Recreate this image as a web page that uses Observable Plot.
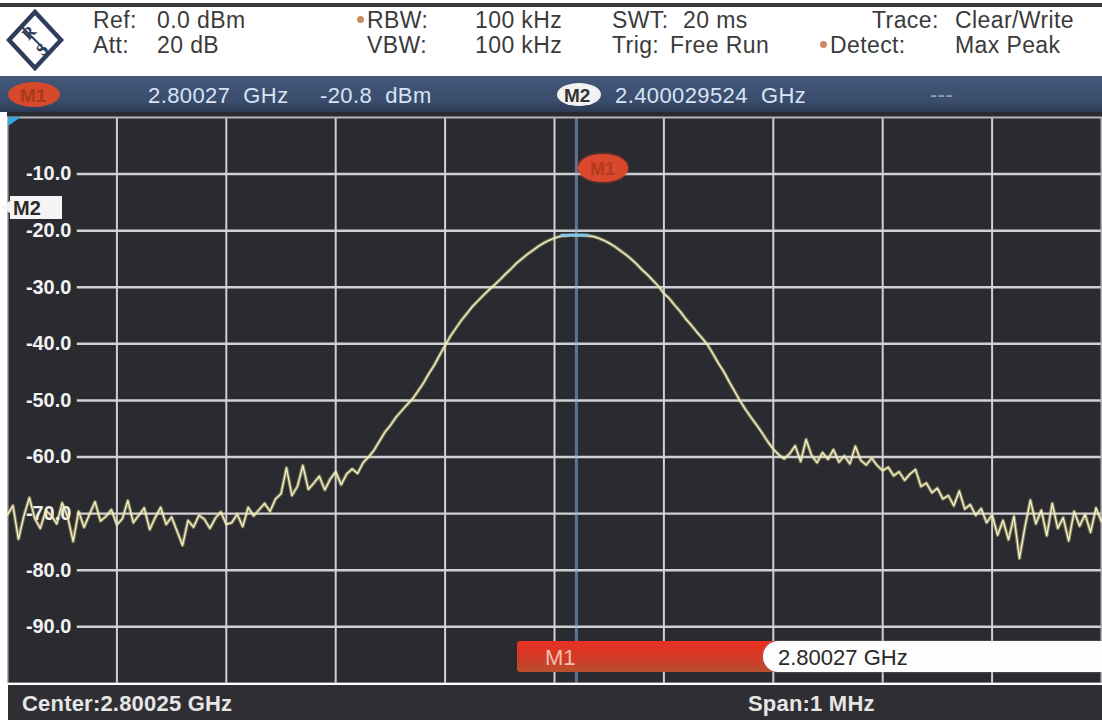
<!DOCTYPE html>
<html><head><meta charset="utf-8">
<script src="https://cdn.jsdelivr.net/npm/d3@7"></script>
<script src="https://cdn.jsdelivr.net/npm/@observablehq/plot@0.6"></script>
<style>
html,body{margin:0;padding:0;background:#fff;overflow:hidden;}
#root{position:relative;width:1102px;height:728px;overflow:hidden;background:#fff;font-family:"Liberation Sans",Arial,sans-serif;}
.h{position:absolute;font-size:23px;color:#3b3b3b;line-height:1;white-space:nowrap;letter-spacing:0.4px;}
.b{position:absolute;font-size:22px;color:#d6e4f6;line-height:1;white-space:nowrap;letter-spacing:0.4px;}
.dot{position:absolute;width:7px;height:7px;border-radius:50%;background:#c98a64;}
.f{position:absolute;font-size:22px;color:#e6e6e6;line-height:1;white-space:nowrap;font-weight:bold;letter-spacing:0.2px;}
</style></head>
<body>
<div id="root">
  <div style="position:absolute;left:0;top:3px;width:1102px;height:4px;background:#3a3a3a"></div>
  <svg style="position:absolute;left:6px;top:9px" width="58" height="62" viewBox="0 0 58 62">
    <polygon points="29,3 55,31 29,59 3,31" fill="none" stroke="#2e3d5c" stroke-width="4.5"/>
    <line x1="16" y1="18" x2="42" y2="44" stroke="#2e3d5c" stroke-width="2"/>
    <text x="17" y="31" font-size="17" font-weight="bold" fill="#2e3d5c" font-family="Liberation Serif,serif" transform="rotate(-45 21 25)">R</text>
    <text x="31" y="46" font-size="17" font-weight="bold" fill="#2e3d5c" font-family="Liberation Serif,serif" transform="rotate(-45 36 40)">S</text>
  </svg>
  <div class="h" style="left:93px;top:9px">Ref:</div>
  <div class="h" style="left:157px;top:9px">0.0 dBm</div>
  <div class="h" style="left:93px;top:34px">Att:</div>
  <div class="h" style="left:157px;top:34px">20 dB</div>
  <div class="dot" style="left:357px;top:16px"></div>
  <div class="h" style="left:367px;top:9px">RBW:</div>
  <div class="h" style="left:475px;top:9px">100 kHz</div>
  <div class="h" style="left:367px;top:34px">VBW:</div>
  <div class="h" style="left:475px;top:34px">100 kHz</div>
  <div class="h" style="left:612px;top:9px">SWT:</div>
  <div class="h" style="left:683px;top:9px">20 ms</div>
  <div class="h" style="left:612px;top:34px">Trig:</div>
  <div class="h" style="left:670px;top:34px">Free Run</div>
  <div class="h" style="left:872px;top:9px">Trace:</div>
  <div class="h" style="left:955px;top:9px">Clear/Write</div>
  <div class="dot" style="left:820px;top:41px"></div>
  <div class="h" style="left:830px;top:34px">Detect:</div>
  <div class="h" style="left:955px;top:34px">Max Peak</div>

  <div style="position:absolute;left:0;top:76px;width:1102px;height:36px;background:linear-gradient(#43577a,#3a4d6c 70%,#2c3a52)"></div>
  <div style="position:absolute;left:8px;top:82px;width:52px;height:25px;border-radius:50%;background:#d6492b"></div>
  <div style="position:absolute;left:20px;top:85px;font-size:19px;color:#a83a24;font-weight:bold">M1</div>
  <div class="b" style="left:148px;top:85px">2.80027&nbsp; GHz</div>
  <div class="b" style="left:320px;top:85px">-20.8&nbsp; dBm</div>
  <div style="position:absolute;left:557px;top:83px;width:44px;height:23px;border-radius:50%;background:#f2f2f2"></div>
  <div style="position:absolute;left:564px;top:85px;font-size:19px;color:#333;font-weight:bold">M2</div>
  <div class="b" style="left:615px;top:85px">2.400029524&nbsp; GHz</div>
  <div class="b" style="left:930px;top:84px;color:#8ea2c0">---</div>

  <div id="plot" style="position:absolute;left:7px;top:112px"></div>

  <div style="position:absolute;left:8px;top:685px;width:1094px;height:35px;background:#2f2f33"></div>
  <div class="f" style="left:22px;top:693px">Center:2.80025 GHz</div>
  <div class="f" style="left:748px;top:693px">Span:1 MHz</div>
</div>
<script>
// ---- data ----
const sweepStartKHz = -500;   // offset from centre 2.80025 GHz
const sweepStepKHz = 5;
const traceLevels = [
  -70.2, -68.6, -74.5, -70.4, -67.2, -70.9, -72.6, -69.5, -70.3, -71.8,
  -68.1, -70.6, -74.9, -69.6, -72.4, -70.1, -67.9, -71.3, -70.5, -69.3,
  -72.0, -70.9, -67.7, -71.6, -70.3, -69.0, -72.8, -70.7, -68.9, -71.9,
  -70.6, -73.1, -75.6, -71.2, -72.4, -70.3, -71.0, -72.6, -70.8, -69.7,
  -71.9,
  -71.6, -70.1, -72.3, -68.9, -70.4, -69.3, -68.2, -69.6, -67.4, -66.5,
  -61.9, -66.8, -65.2, -61.5, -65.7, -64.6, -63.4, -65.8, -63.9, -62.6,
  -64.9, -63.0, -62.1, -62.9, -61.0,
  -60.0, -58.8, -57.2, -55.6, -54.4, -53.0, -51.9, -50.8, -49.8, -48.4,
  -47.0, -45.3, -43.8, -42.0, -40.3, -38.6, -37.2, -35.8, -34.6, -33.4,
  -32.4, -31.4, -30.5, -29.6, -28.7, -27.7, -26.8, -25.8, -25.0, -24.2,
  -23.5, -22.8, -22.2, -21.7, -21.3, -21.0, -20.9, -20.8, -20.8,
  -20.8, -20.9, -21.0, -21.3, -21.7, -22.2, -22.8, -23.5, -24.2, -25.0,
  -25.9, -26.9, -27.8, -28.8, -29.8, -31.1, -32.0, -33.2, -34.3, -35.6,
  -36.7, -37.9, -39.0, -40.2, -41.8, -43.5, -45.0, -46.8, -48.5, -50.2,
  -51.7, -53.1, -54.4, -55.8, -57.3, -58.6, -59.6,
  -60.3, -59.4, -58.0, -60.8, -56.9, -59.7, -61.0, -59.2, -60.4, -58.7,
  -60.9, -59.8, -61.2, -58.1, -60.6, -61.4, -60.2, -61.5, -62.4,
  -61.8, -63.3, -62.6, -64.1, -63.0, -62.2, -65.2, -64.6, -66.3, -65.5,
  -67.4, -66.8, -68.6, -66.0, -69.2, -68.4, -70.3, -69.1, -71.6, -70.2,
  -73.8, -71.2, -74.6, -70.5, -77.9, -72.4, -67.6, -71.8, -69.4, -73.9,
  -68.2, -72.6, -70.7, -74.8, -69.6, -72.2, -70.1, -73.3, -69.0, -71.4
];
const yTicks = [-10, -20, -30, -40, -50, -60, -70, -80, -90];
const xGridKHz = [-400, -300, -200, -100, 0, 100, 200, 300, 400];
const m1 = {f: 20, level: -20.8, label: "M1", readout: "2.80027 GHz"};
const m2Level = -16;

const trace = traceLevels.map((level, i) => ({f: sweepStartKHz + i * sweepStepKHz, level}));

const chart = Plot.plot({
  width: 1099, height: 573,
  marginLeft: 0, marginRight: 1, marginTop: 5, marginBottom: 0,
  x: {domain: [-500, 500], axis: null},
  y: {domain: [-100, 0], axis: null},
  style: {background: "#2a2a31", fontFamily: "Liberation Sans, Arial, sans-serif"},
  marks: [
    Plot.gridX(xGridKHz, {stroke: "#d0d0d5", strokeOpacity: 1, strokeWidth: 2}),
    Plot.gridY(yTicks, {stroke: "#d0d0d5", strokeOpacity: 1, strokeWidth: 2.5, insetLeft: 70}),
    Plot.frame({stroke: "#b4b4ba", strokeWidth: 2}),
    Plot.axisY(yTicks, {anchor: "left", tickSize: 0, tickPadding: 0, dx: 64, textAnchor: "end",
      tickFormat: d => d.toFixed(1), fill: "#f2f2f2", fontSize: 20, fontWeight: "bold", label: null}),
    Plot.ruleX([m1], {x: "f", stroke: "#86b2e0", strokeOpacity: 0.55, strokeWidth: 3}),
    Plot.line(trace, {x: "f", y: "level", stroke: "#e0d770", strokeOpacity: 0.5, strokeWidth: 3.5}),
    Plot.line(trace, {x: "f", y: "level", stroke: "#f4f2dc", strokeWidth: 1.3}),
    Plot.ruleY([m1], {y: "level", x1: d => d.f - 14, x2: d => d.f + 12, stroke: "#7fc6ee", strokeWidth: 3})
  ]
});
document.getElementById("plot").append(chart);

// overlays positioned through the plot's scales
const sx = chart.scale("x"), sy = chart.scale("y");
const root = document.getElementById("root");
const plotLeft = 7, plotTop = 112;
function add(html) { root.insertAdjacentHTML("beforeend", html); }
// cyan reference triangle
add(`<svg style="position:absolute;left:8px;top:117px" width="14" height="10"><polygon points="0,0 13,0 0,9" fill="#39a6e0"/></svg>`);
// M1 oval above marker
const mx = plotLeft + sx.apply(m1.f);
add(`<div style="position:absolute;left:${mx}px;top:${plotTop + 42}px;width:50px;height:28px;border-radius:50%;background:#d9482a;box-shadow:0 0 3px #d9482a"></div>`);
add(`<div style="position:absolute;left:${mx + 12}px;top:${plotTop + 47}px;font-size:18px;color:#b23a22;font-weight:bold">${m1.label}</div>`);
// M2 flag at the left
const m2y = plotTop + sy.apply(m2Level);
add(`<svg style="position:absolute;left:0;top:${m2y - 12}px" width="64" height="24"><polygon points="1,11 10,5 10,17" fill="#f4f4f4"/><rect x="10" y="0" width="52" height="23" fill="#f4f4f4"/><text x="13" y="19" font-size="20" font-weight="bold" font-family="Liberation Sans,Arial" fill="#2a2a2a">M2</text></svg>`);
// M1 readout bar
add(`<div style="position:absolute;left:517px;top:641px;width:260px;height:31px;background:linear-gradient(#ea2f22,#d23a26 55%,#b8502e);border-radius:3px 0 0 3px"></div>`);
add(`<div style="position:absolute;left:545px;top:645px;font-size:22px;color:#f2c0b0">${m1.label}</div>`);
add(`<div style="position:absolute;left:763px;top:641px;width:345px;height:31px;background:#fdfdfd;border-radius:16px 0 0 16px;box-shadow:0 0 2px #888"></div>`);
add(`<div style="position:absolute;left:778px;top:645px;font-size:22px;color:#2a2a2a">${m1.readout}</div>`);
</script>
</body></html>
